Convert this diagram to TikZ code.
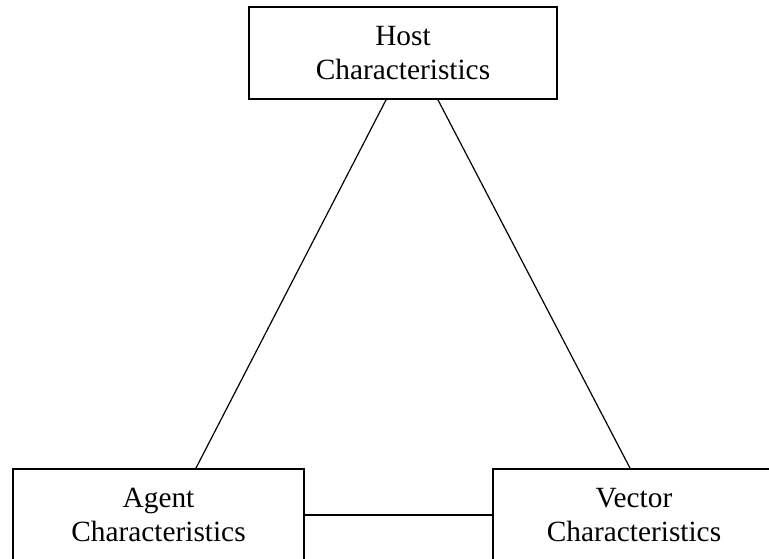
\documentclass[tikz,border=0pt]{standalone}
\usepackage{fontspec}
\setmainfont{Liberation Serif}
\usetikzlibrary{positioning}

\begin{document}
\begin{tikzpicture}[x=0.75pt,y=-0.75pt,
    charbox/.style={rectangle,draw,line width=1.4pt,align=center,
      minimum height=69pt,inner sep=0pt,
      font=\fontsize{22}{25.5}\selectfont}]
  \useasboundingbox (0,0) rectangle (769,558);
  \clip (0,0) rectangle (769,558);

  \node[charbox,minimum width=231pt] (host) at (403,53) {Host\\Characteristics};
  \node[charbox,minimum width=218.25pt] (agent) at (158.5,515) {Agent\\Characteristics};
  \node[charbox,minimum width=211.5pt] (vector) at (634,515) {Vector\\Characteristics};

  \draw[line width=0.9pt] ([xshift=-12.75pt]host.south) -- ([xshift=28.1pt]agent.north);
  \draw[line width=0.9pt] ([xshift=26.25pt]host.south) -- ([xshift=-3pt]vector.north);
  \draw[line width=0.9pt] (agent) -- (vector);
\end{tikzpicture}
\end{document}
